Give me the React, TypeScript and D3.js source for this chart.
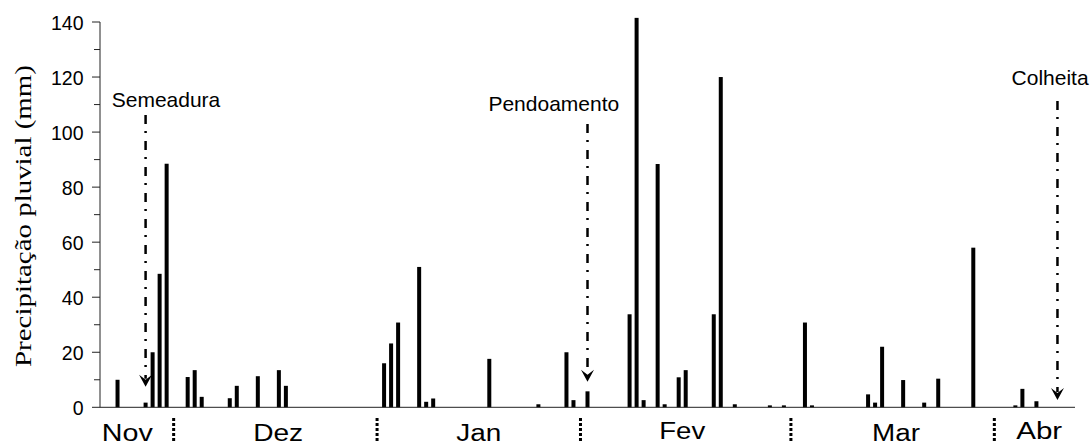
import React from "react";
import * as d3 from "d3";

// ---- data ----
const rainDays = [2, 6, 7, 8, 9, 12, 13, 14, 18, 19, 22, 25, 26, 40, 41, 42, 45, 46, 47, 55, 62, 66, 67, 69, 75, 76, 77, 79, 80, 82, 83, 87, 88, 90, 95, 97, 100, 101, 109, 110, 111, 114, 117, 119, 124, 130, 131, 133];
const rainMm = [10, 1.7, 20, 48.5, 88.5, 11, 13.5, 3.8, 3.3, 7.8, 11.3, 13.5, 7.8, 16, 23.2, 30.8, 51, 2, 3.2, 17.6, 1.1, 20, 2.6, 5.8, 33.8, 141.5, 2.6, 88.4, 1.1, 10.9, 13.5, 33.8, 120, 1.1, 0.7, 0.7, 30.8, 0.7, 4.7, 1.7, 22, 9.9, 1.7, 10.4, 58, 0.7, 6.7, 2.2];
const totalDays = 139;
const monthNames = ["Nov", "Dez", "Jan", "Fev", "Mar", "Abr"];
const monthLabelDay = [3.4, 24.9, 53.5, 82.5, 113, 133.4];
const monthBoundaryDay = [10, 39, 68, 98, 127];
const yTicks = [0, 20, 40, 60, 80, 100, 120, 140];
const yMinorTicks = [10, 30, 50, 70, 90, 110, 130];
const eventNames = ["Semeadura", "Pendoamento", "Colheita"];
const eventDay = [6, 69, 136];
const yTitle = "Precipitação pluvial (mm)";

// ---- layout ----
const W = 1090, H = 446;
const left = 100, right = 1075, top = 22, bottom = 407.3;
const monthLabelBaseline = [441, 441, 441, 438.5, 441, 438.5];
const monthLabelWidth = [51, 50, 45, 46, 48, 46];
const eventLineTop = [115, 124, 101];
const eventTip = [386.7, 381.7, 400];
const eventLabelDx = [20.4, -33.7, -7.4];
const eventLabelBaseline = [106.7, 111, 85];

const sans = "'Liberation Sans', Arial, Helvetica, sans-serif";
const serif = "'Liberation Serif', 'Times New Roman', serif";

export default function App() {
  const x = d3
    .scaleBand<number>()
    .domain(d3.range(totalDays))
    .range([left, right])
    .paddingInner(0.43)
    .paddingOuter(0.215);
  const step = x.step();
  const cx = (d: number) => left + step * (d + 0.5);
  const y = d3.scaleLinear().domain([0, 140]).range([bottom, top]);

  return (
    <svg
      width={W}
      height={H}
      style={{ position: "absolute", left: 0, top: 0, display: "block", background: "#fff" }}
    >
      {/* bars */}
      {rainDays.map((d, i) => (
        <rect
          key={i}
          x={x(d)!}
          width={x.bandwidth()}
          y={y(rainMm[i])}
          height={y(0) - y(rainMm[i])}
          fill="#000"
        />
      ))}

      {/* axes */}
      <line x1={left} x2={left} y1={top} y2={bottom} stroke="#222" strokeWidth={1} />
      <line x1={left} x2={right} y1={bottom} y2={bottom} stroke="#222" strokeWidth={1} />
      {yTicks.map((t) => (
        <g key={t}>
          <line x1={left - 8} x2={left} y1={y(t)} y2={y(t)} stroke="#222" strokeWidth={1} />
          <text
            x={83.5}
            y={y(t) + 7.7}
            textAnchor="end"
            fontFamily={sans}
            fontSize={19.5}
            fill="#000"
          >
            {t}
          </text>
        </g>
      ))}
      {yMinorTicks.map((t) => (
        <line key={t} x1={left - 6} x2={left} y1={y(t)} y2={y(t)} stroke="#222" strokeWidth={1} />
      ))}

      {/* y title */}
      <text
        transform={`translate(31,216) rotate(-90)`}
        textAnchor="middle"
        fontFamily={serif}
        fontSize={24}
        textLength={302}
        lengthAdjust="spacingAndGlyphs"
        fill="#000"
      >
        {yTitle}
      </text>

      {/* month boundaries */}
      {monthBoundaryDay.map((d, i) => (
        <line
          key={i}
          x1={cx(d)}
          x2={cx(d)}
          y1={418}
          y2={442}
          stroke="#000"
          strokeWidth={3}
          strokeDasharray="3,2"
        />
      ))}

      {/* month labels */}
      {monthNames.map((m, i) => (
        <text
          key={m}
          x={cx(monthLabelDay[i])}
          y={monthLabelBaseline[i]}
          textAnchor="middle"
          fontFamily={sans}
          fontSize={23}
          textLength={monthLabelWidth[i]}
          lengthAdjust="spacingAndGlyphs"
          fill="#000"
        >
          {m}
        </text>
      ))}

      {/* events */}
      {eventNames.map((n, i) => {
        const ex = cx(eventDay[i]);
        const tip = eventTip[i];
        return (
          <g key={n}>
            <line
              x1={ex}
              x2={ex}
              y1={eventLineTop[i]}
              y2={tip - 8}
              stroke="#000"
              strokeWidth={2.5}
              strokeDasharray="9,7,2,8"
            />
            <path
              d={`M${ex - 6.5},${tip - 12} L${ex},${tip} L${ex + 6.5},${tip - 12} L${ex},${tip - 7} Z`}
              fill="#000"
            />
            <text
              x={ex + eventLabelDx[i]}
              y={eventLabelBaseline[i]}
              textAnchor="middle"
              fontFamily={sans}
              fontSize={21}
              fill="#000"
            >
              {n}
            </text>
          </g>
        );
      })}
    </svg>
  );
}
